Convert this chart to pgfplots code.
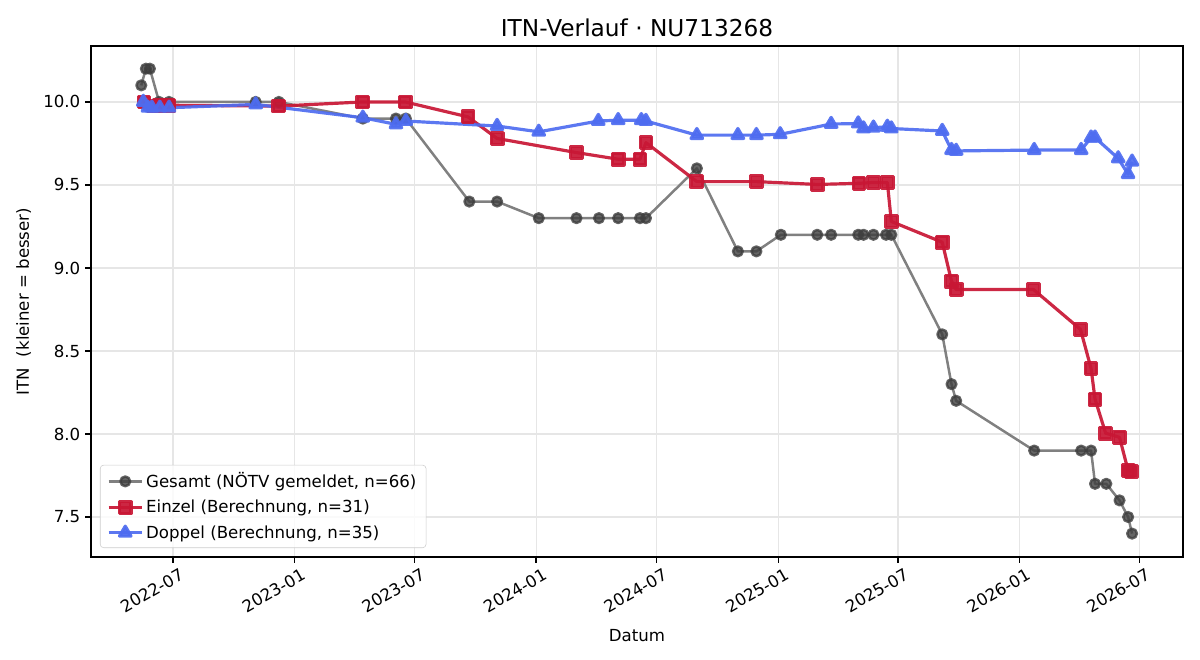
\documentclass[border=0pt]{standalone}
\usepackage{fontspec}
\setmainfont{DejaVu Sans}
\usepackage{pgfplots}
\pgfplotsset{compat=1.18}

\definecolor{gesline}{RGB}{128,128,128}
\definecolor{gesmark}{RGB}{62,62,62}
\definecolor{einzel}{RGB}{200,22,52}
\definecolor{doppel}{RGB}{78,108,240}
\definecolor{gridc}{RGB}{230,230,230}

% x = days since 2022-07-01
\begin{document}
\begin{tikzpicture}
\path (0,0) rectangle (12in,6.6in);
\begin{axis}[
  at={(0.91in,1.03in)}, anchor=south west,
  scale only axis, width=10.92in, height=5.11in,
  xmin=-124, xmax=1527, ymin=7.259, ymax=10.337,
  xtick={0,184,365,549,731,915,1096,1280,1461},
  xticklabels={2022-07,2023-01,2023-07,2024-01,2024-07,2025-01,2025-07,2026-01,2026-07},
  xticklabel style={rotate=30, anchor=north east, inner sep=1pt, xshift=3pt, yshift=-4pt},
  ytick={7.5,8,8.5,9,9.5,10},
  yticklabel style={/pgf/number format/.cd, fixed, fixed zerofill, precision=1},
  /pgf/number format/assume math mode=true,
  tick align=outside, tick pos=left,
  major tick length=4.2pt,
  grid=major, grid style={gridc, line width=0.9pt},
  axis line style={line width=0.95pt},
  every tick/.style={black, line width=0.95pt},
  title={ITN-Verlauf · NU713268},
  title style={font=\fontsize{16.8}{20}\selectfont, yshift=-3pt},
  xlabel={Datum}, ylabel={ITN\ \ (kleiner = besser)},
  label style={font=\fontsize{12}{14}\selectfont},
  xlabel style={yshift=-7pt},
  ylabel style={yshift=2pt},
  tick label style={font=\fontsize{12}{14}\selectfont},
  legend cell align=left,
  legend style={at={(0.0082,0.0176)}, anchor=south west, draw=black!20,
    rounded corners=2.5pt, fill=white, fill opacity=0.8, text opacity=1,
    font=\fontsize{12}{14}\selectfont, row sep=3.5pt, inner xsep=5pt, inner ysep=3.5pt},
  legend image code/.code={\draw[mark repeat=2,mark phase=2] plot coordinates {(0cm,0cm) (0.42cm,0cm) (0.84cm,0cm)};},
]
\addplot[gesline, line width=1.8pt, line join=round, mark=*, mark size=3.5pt,
  mark options={fill=gesmark, draw=gesmark, opacity=0.8}] coordinates {
(-48,10.1) (-41,10.2) (-35,10.2) (-21,10.0) (-6,10.0) (125,10.0) (160,10.0)
(287,9.9) (337,9.9) (352,9.9) (448,9.4) (490,9.4) (553,9.3) (610,9.3)
(644,9.3) (673,9.3) (706,9.3) (715,9.3) (792,9.6) (854,9.1) (882,9.1)
(919,9.2) (974,9.2) (995,9.2) (1036,9.2) (1044,9.2) (1059,9.2) (1078,9.2)
(1086,9.2) (1163,8.6) (1177,8.3) (1184,8.2) (1302,7.9) (1373,7.9) (1388,7.9)
(1394,7.7) (1411,7.7) (1431,7.6) (1444,7.5) (1450,7.4)
};
\addlegendentry{Gesamt (NÖTV gemeldet, n=66)}
\addplot[einzel, opacity=0.92, line width=2.3pt, line join=round, mark=square*, mark size=4.2pt,
  mark options={fill=einzel, draw=einzel}] coordinates {
(-44,10.0) (-30,9.975) (-20,9.98) (-6,9.98) (160,9.975) (287,10.0) (351,10.0)
(446,9.91) (490,9.78) (610,9.695) (673,9.655) (706,9.655) (715,9.755)
(792,9.52) (882,9.52) (974,9.503) (1037,9.51) (1059,9.515) (1080,9.515)
(1086,9.28) (1163,9.155) (1177,8.92) (1184,8.87) (1301,8.87) (1372,8.63)
(1388,8.395) (1394,8.21) (1410,8.005) (1431,7.98) (1444,7.78) (1449,7.775)
};
\addlegendentry{Einzel (Berechnung, n=31)}
\addplot[doppel, opacity=0.92, line width=2.3pt, line join=round, mark=triangle*, mark size=4.8pt,
  mark options={fill=doppel, draw=doppel}] coordinates {
(-45,10.0) (-38,9.965) (-32,9.965) (-20,9.965) (-6,9.965) (125,9.985)
(287,9.905) (337,9.865) (352,9.885) (490,9.855) (553,9.82) (643,9.885)
(673,9.89) (708,9.89) (715,9.885) (792,9.80) (854,9.80) (882,9.80)
(918,9.805) (995,9.867) (1036,9.87) (1044,9.84) (1059,9.845) (1080,9.85)
(1086,9.84) (1163,9.825) (1177,9.71) (1184,9.705) (1302,9.71) (1373,9.71)
(1388,9.785) (1394,9.785) (1429,9.66) (1444,9.565) (1450,9.64)
};
\addlegendentry{Doppel (Berechnung, n=35)}
\end{axis}
\end{tikzpicture}
\end{document}
